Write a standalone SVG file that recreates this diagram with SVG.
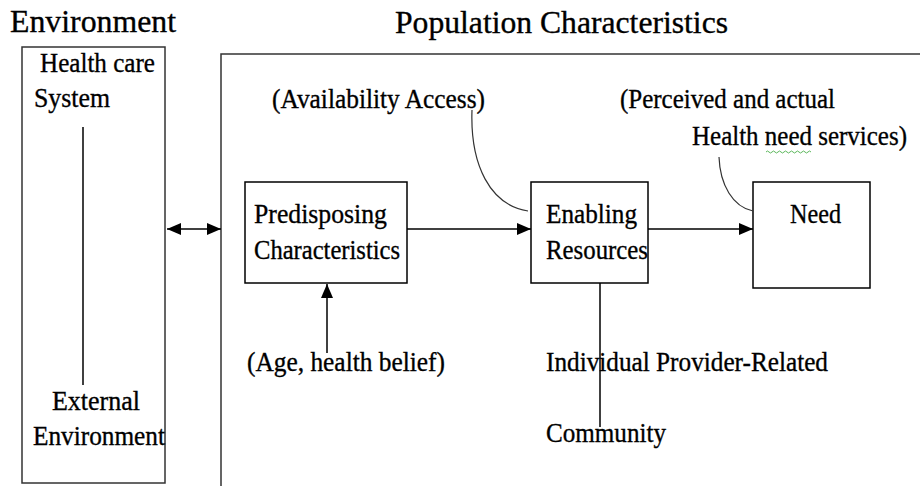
<svg xmlns="http://www.w3.org/2000/svg" width="920" height="486" viewBox="0 0 920 486">
<style>
text{font-family:'Liberation Serif','DejaVu Serif',serif;fill:#000;stroke:#000;stroke-width:0.35;}
.h{font-size:31px;}
.b{font-size:28px;}
.box{fill:#fff;stroke:#000;stroke-width:1.5;}
.frame{fill:none;stroke:#333;stroke-width:1.5;}
.ln{fill:none;stroke:#000;stroke-width:1.5;}
.cv{fill:none;stroke:#333;stroke-width:1.2;}
</style>
<defs>
<marker id="ah" viewBox="0 0 14 12" refX="14" refY="6" markerWidth="14" markerHeight="12" markerUnits="userSpaceOnUse" orient="auto-start-reverse">
<path d="M0,0 L14,6 L0,12 Z" fill="#000"/>
</marker>
</defs>
<rect width="920" height="486" fill="#fff"/>

<g id="headings">
<text class="h" x="10" y="32" textLength="166" lengthAdjust="spacingAndGlyphs">Environment</text>
<text class="h" x="395" y="33" textLength="333" lengthAdjust="spacingAndGlyphs">Population Characteristics</text>
</g>

<g id="environment">
<rect class="frame" x="22" y="47" width="143" height="436"/>
<text class="b" x="40" y="72" textLength="115" lengthAdjust="spacingAndGlyphs">Health care</text>
<text class="b" x="34" y="107" textLength="76" lengthAdjust="spacingAndGlyphs">System</text>
<line class="ln" x1="83" y1="127" x2="83" y2="385"/>
<text class="b" x="52" y="410" textLength="88" lengthAdjust="spacingAndGlyphs">External</text>
<text class="b" x="33" y="445" textLength="132" lengthAdjust="spacingAndGlyphs">Environment</text>
</g>

<g id="population">
<polyline class="frame" points="221,500 221,54 925,54"/>
</g>

<g id="predisposing">
<rect class="box" x="245" y="182" width="162" height="101"/>
<text class="b" x="254" y="223" textLength="133" lengthAdjust="spacingAndGlyphs">Predisposing</text>
<text class="b" x="254" y="259" textLength="146" lengthAdjust="spacingAndGlyphs">Characteristics</text>
</g>

<g id="enabling">
<rect class="box" x="531" y="182" width="117" height="101"/>
<text class="b" x="546" y="223" textLength="91" lengthAdjust="spacingAndGlyphs">Enabling</text>
<text class="b" x="546" y="259" textLength="102" lengthAdjust="spacingAndGlyphs">Resources</text>
</g>

<g id="need">
<rect class="box" x="753" y="182" width="117" height="106"/>
<text class="b" x="790" y="223" textLength="51" lengthAdjust="spacingAndGlyphs">Need</text>
</g>

<g id="labels">
<text class="b" x="272" y="108" textLength="213" lengthAdjust="spacingAndGlyphs">(Availability Access)</text>
<text class="b" x="620" y="108" textLength="215" lengthAdjust="spacingAndGlyphs">(Perceived and actual</text>
<text class="b" x="692" y="145" textLength="215" lengthAdjust="spacingAndGlyphs">Health need services)</text>
<path d="M766,152 q1.5,-2 3,0 t3,0 t3,0 t3,0 t3,0 t3,0 t3,0 t3,0 t3,0 t3,0 t3,0 t3,0 t3,0 t3,0 t3,0" fill="none" stroke="#5cb85c" stroke-width="1"/>
<text class="b" x="247" y="371" textLength="198" lengthAdjust="spacingAndGlyphs">(Age, health belief)</text>
<text class="b" x="546" y="371" textLength="282" lengthAdjust="spacingAndGlyphs">Individual Provider-Related</text>
<text class="b" x="546" y="442" textLength="120" lengthAdjust="spacingAndGlyphs">Community</text>
</g>

<g id="connectors">
<line class="ln" x1="167" y1="229" x2="221" y2="229" marker-start="url(#ah)" marker-end="url(#ah)"/>
<line class="ln" x1="407" y1="229" x2="531" y2="229" marker-end="url(#ah)"/>
<line class="ln" x1="648" y1="229" x2="753" y2="229" marker-end="url(#ah)"/>
<line class="ln" x1="327" y1="353" x2="327" y2="284" marker-end="url(#ah)"/>
<line class="ln" x1="600" y1="283" x2="600" y2="427" stroke="#444"/>
<path class="cv" d="M472,110 C470,165 490,205 528,211"/>
<path class="cv" d="M719,157 C720,185 733,207 753,211"/>
</g>
</svg>
